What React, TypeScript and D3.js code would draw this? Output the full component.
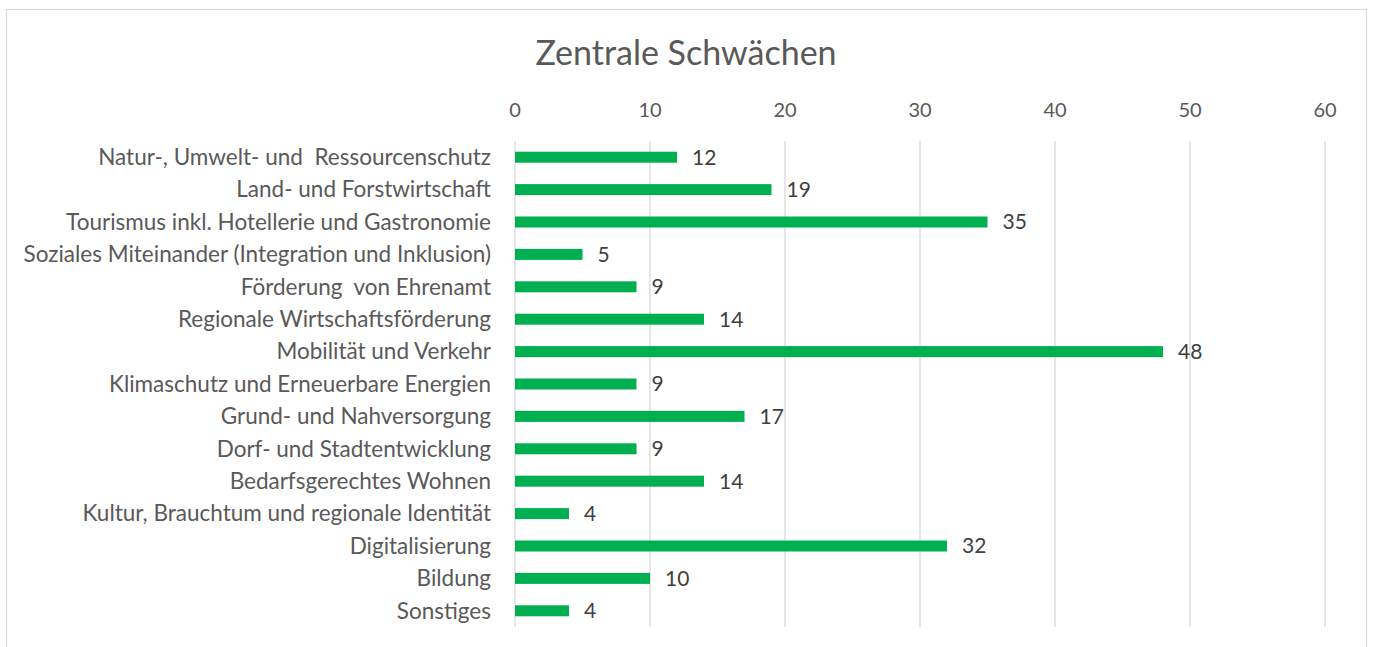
import React from 'react';
import * as d3 from 'd3';

const categories = [
  'Natur-, Umwelt- und  Ressourcenschutz',
  'Land- und Forstwirtschaft',
  'Tourismus inkl. Hotellerie und Gastronomie',
  'Soziales Miteinander (Integration und Inklusion)',
  'Förderung  von Ehrenamt',
  'Regionale Wirtschaftsförderung',
  'Mobilität und Verkehr',
  'Klimaschutz und Erneuerbare Energien',
  'Grund- und Nahversorgung',
  'Dorf- und Stadtentwicklung',
  'Bedarfsgerechtes Wohnen',
  'Kultur, Brauchtum und regionale Identität',
  'Digitalisierung',
  'Bildung',
  'Sonstiges',
];
const values = [12, 19, 35, 5, 9, 14, 48, 9, 17, 9, 14, 4, 32, 10, 4];
const ticks = [0, 10, 20, 30, 40, 50, 60];

const W = 1375;
const H = 647;
const FONT = 'Lato, "Open Sans", sans-serif';

const App: React.FC = () => {
  const svgRef = React.useRef<SVGSVGElement | null>(null);

  React.useEffect(() => {
    const svg = d3.select(svgRef.current);
    svg.selectAll('*').remove();

    const x = d3.scaleLinear().domain([0, 60]).range([515, 1325]);
    const y = d3
      .scaleBand<string>()
      .domain(categories)
      .range([141, 627])
      .paddingInner(0.66)
      .paddingOuter(0.33);

    // chart frame
    svg
      .append('rect')
      .attr('x', 6.5)
      .attr('y', 9.5)
      .attr('width', 1360)
      .attr('height', 660)
      .attr('fill', 'white')
      .attr('stroke', '#d9d9d9')
      .attr('stroke-width', 1.2);

    svg
      .append('text')
      .attr('x', 686)
      .attr('y', 65)
      .attr('text-anchor', 'middle')
      .attr('font-family', FONT)
      .attr('font-size', 34)
      .attr('fill', '#595959')
      .text('Zentrale Schwächen');

    // grid
    svg
      .append('g')
      .selectAll('line')
      .data(ticks)
      .join('line')
      .attr('x1', (d) => x(d))
      .attr('x2', (d) => x(d))
      .attr('y1', 141)
      .attr('y2', 627)
      .attr('stroke', '#d9d9d9')
      .attr('stroke-width', 1.3);

    svg
      .append('g')
      .selectAll('text')
      .data(ticks)
      .join('text')
      .attr('x', (d) => x(d))
      .attr('y', 117)
      .attr('text-anchor', 'middle')
      .attr('font-family', FONT)
      .attr('font-size', 20)
      .attr('fill', '#595959')
      .text((d) => String(d));

    const bh = 11;
    const rows = svg
      .append('g')
      .selectAll('g')
      .data(categories)
      .join('g')
      .attr('transform', (d) => `translate(0,${(y(d) || 0) + y.bandwidth() / 2})`);

    rows
      .append('rect')
      .attr('x', x(0))
      .attr('y', -bh / 2)
      .attr('width', (_, i) => x(values[i]) - x(0))
      .attr('height', bh)
      .attr('fill', '#00b050');

    rows
      .append('text')
      .attr('x', 491)
      .attr('dy', '0.35em')
      .attr('text-anchor', 'end')
      .attr('font-family', FONT)
      .attr('font-size', 22.5)
      .attr('fill', '#595959')
      .style('white-space', 'pre')
      .text((d) => d);

    rows
      .append('text')
      .attr('x', (_, i) => x(values[i]) + 15)
      .attr('dy', '0.35em')
      .attr('font-family', FONT)
      .attr('font-size', 21)
      .attr('fill', '#404040')
      .text((_, i) => String(values[i]));
  }, []);

  return (
    <svg
      ref={svgRef}
      width={W}
      height={H}
      style={{ position: 'absolute', left: 0, top: 0, background: 'white' }}
    />
  );
};

export default App;
